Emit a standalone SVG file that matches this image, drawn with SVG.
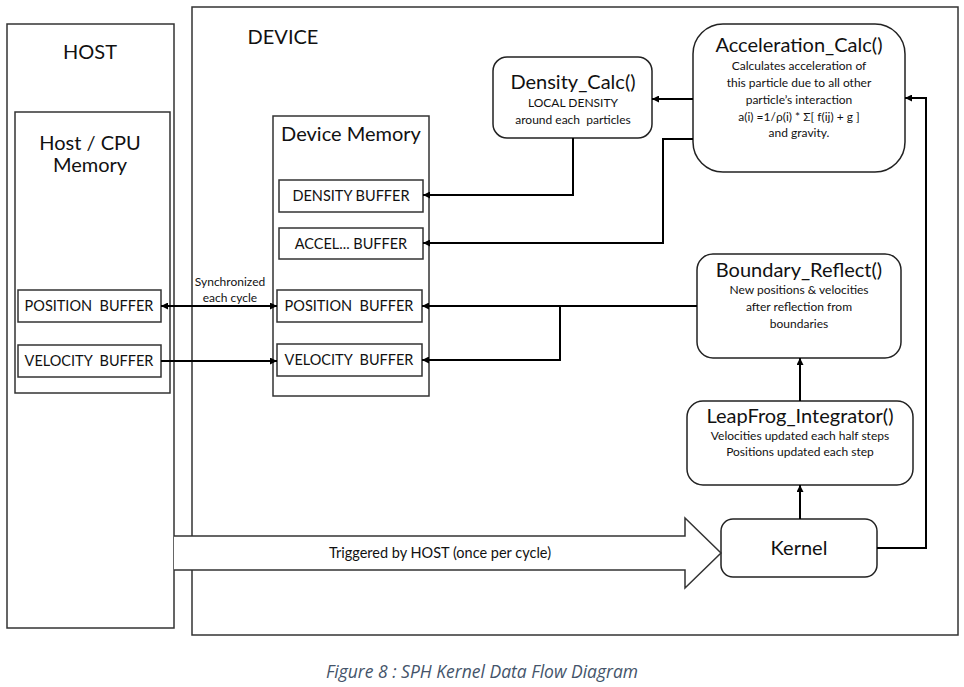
<svg xmlns="http://www.w3.org/2000/svg" width="964" height="687" viewBox="0 0 964 687">
<defs>
<marker id="ah" viewBox="0 0 10 10" refX="10" refY="5" markerWidth="7" markerHeight="7" markerUnits="userSpaceOnUse" orient="auto-start-reverse"><path d="M0,0 L10,5 L0,10 z" fill="#000"/></marker>
<style>
.box{fill:#fff;stroke:#333;stroke-width:1.5}
.rbox{fill:#fff;stroke:#222;stroke-width:1.5}
.t{font-family:Lato,"Liberation Sans",sans-serif;fill:#111;text-anchor:middle;white-space:pre}
.big{font-size:20px}
.mid{font-size:14.5px}
.sm{font-size:12px}
.c{fill:none;stroke:#000;stroke-width:2}
</style>
</defs>
<rect width="964" height="687" fill="#fff"/>
<g id="host"><rect class="box" x="7" y="24" width="167" height="604"/><text class="t big" x="90" y="59">HOST</text></g>
<g id="device"><rect class="box" x="192" y="7" width="766" height="628"/><text class="t big" x="283" y="44">DEVICE</text></g>
<g id="host-mem"><rect class="box" x="15" y="112" width="155" height="281"/><text class="t big" x="90" y="150">Host / CPU</text><text class="t big" x="90" y="172">Memory</text></g>
<g id="host-pos"><rect class="box" x="18" y="290" width="143" height="32"/><text class="t mid" x="89" y="311" xml:space="preserve">POSITION  BUFFER</text></g>
<g id="host-vel"><rect class="box" x="18" y="345" width="143" height="32"/><text class="t mid" x="89" y="366" xml:space="preserve">VELOCITY  BUFFER</text></g>
<g id="dev-mem"><rect class="box" x="273" y="116" width="156" height="280"/><text class="t big" x="351" y="141">Device Memory</text></g>
<g id="dens-buf"><rect class="box" x="279" y="180" width="144" height="32"/><text class="t mid" x="351" y="201">DENSITY BUFFER</text></g>
<g id="acc-buf"><rect class="box" x="279" y="228" width="144" height="31"/><text class="t mid" x="351" y="249">ACCEL... BUFFER</text></g>
<g id="dev-pos"><rect class="box" x="277" y="290" width="145" height="32"/><text class="t mid" x="349" y="311" xml:space="preserve">POSITION  BUFFER</text></g>
<g id="dev-vel"><rect class="box" x="277" y="344" width="145" height="32"/><text class="t mid" x="349" y="365" xml:space="preserve">VELOCITY  BUFFER</text></g>
<g id="density-calc"><rect class="rbox" x="493" y="57" width="159" height="81" rx="14"/><text class="t big" x="573" y="89">Density_Calc()</text><text class="t sm" x="573" y="107">LOCAL DENSITY</text><text class="t sm" x="573" y="124" xml:space="preserve">around each  particles</text></g>
<g id="accel-calc"><rect class="rbox" x="693" y="24" width="212" height="148" rx="30"/><text class="t big" x="799" y="52">Acceleration_Calc()</text><text class="t sm" x="799" y="70">Calculates acceleration of</text><text class="t sm" x="799" y="87">this particle due to all other</text><text class="t sm" x="799" y="104">particle’s interaction</text><text class="t sm" x="799" y="121">a(i) =1/ρ(i) * Σ[ f(ij) + g ]</text><text class="t sm" x="799" y="137">and gravity.</text></g>
<g id="boundary"><rect class="rbox" x="697" y="254" width="204" height="104" rx="16"/><text class="t big" x="799" y="277">Boundary_Reflect()</text><text class="t sm" x="799" y="294">New positions &amp; velocities</text><text class="t sm" x="799" y="311">after reflection from</text><text class="t sm" x="799" y="328">boundaries</text></g>
<g id="leapfrog"><rect class="rbox" x="687" y="401" width="226" height="84" rx="16"/><text class="t big" x="800" y="423">LeapFrog_Integrator()</text><text class="t sm" x="800" y="440">Velocities updated each half steps</text><text class="t sm" x="800" y="456">Positions updated each step</text></g>
<g id="kernel"><rect class="rbox" x="721" y="519" width="156" height="58" rx="12"/><text class="t big" x="799" y="555">Kernel</text></g>
<g id="trigger"><path d="M174,536 L685,536 L685,518 L721,553 L685,588 L685,570 L174,570" fill="#fff" stroke="#333" stroke-width="1.5"/><text class="t mid" x="440" y="558">Triggered by HOST (once per cycle)</text></g>
<g id="connectors">
<line class="c" x1="161" y1="306" x2="277" y2="306" stroke-width="1.5" marker-start="url(#ah)" marker-end="url(#ah)"/>
<text class="t sm" x="230" y="286">Synchronized</text><text class="t sm" x="230" y="302">each cycle</text>
<line class="c" x1="161" y1="361" x2="277" y2="361" stroke-width="1.5" marker-end="url(#ah)"/>
<line class="c" x1="693" y1="99" x2="652" y2="99" marker-end="url(#ah)"/>
<polyline class="c" points="573,138 573,195 423,195" marker-end="url(#ah)"/>
<polyline class="c" points="693,139 663,139 663,243 423,243" marker-end="url(#ah)"/>
<polyline class="c" points="877,548 926,548 926,98 905,98" marker-end="url(#ah)"/>
<line class="c" x1="697" y1="306" x2="422" y2="306" stroke-width="1.5" marker-end="url(#ah)"/>
<polyline class="c" points="560,306 560,360 422,360" marker-end="url(#ah)"/>
<line class="c" x1="800" y1="401" x2="800" y2="358" marker-end="url(#ah)"/>
<line class="c" x1="800" y1="519" x2="800" y2="485" marker-end="url(#ah)"/>
</g>
<text x="482" y="678" font-family="'Open Sans','Liberation Sans',sans-serif" font-style="italic" font-size="17.5" fill="#44546A" text-anchor="middle">Figure 8 : SPH Kernel Data Flow Diagram</text>
</svg>
